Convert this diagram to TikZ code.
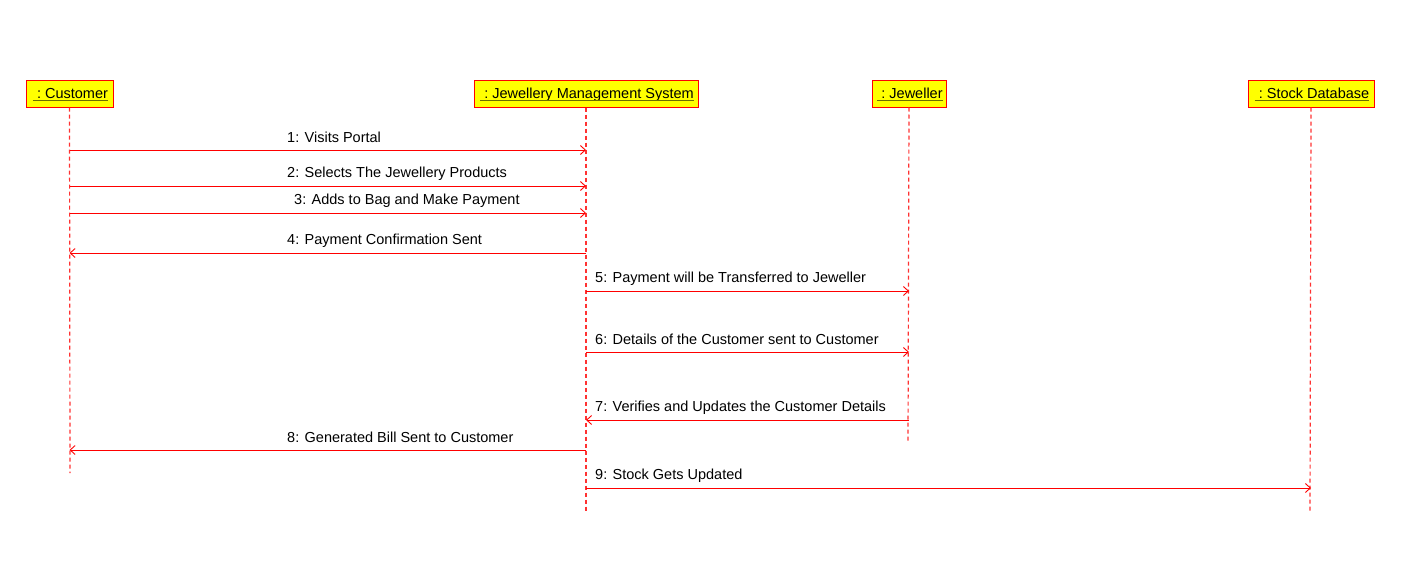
\documentclass[tikz,border=0pt]{standalone}
\usepackage{fontspec}
\setmainfont{Liberation Sans}
\usetikzlibrary{arrows.meta}
\definecolor{mred}{RGB}{255,0,0}
\definecolor{lifered}{RGB}{255,50,50}
\definecolor{boxyellow}{RGB}{255,255,0}
\definecolor{ulcol}{RGB}{110,110,0}
\begin{document}
\begin{tikzpicture}[x=1pt,y=-1pt,font=\fontsize{14.5}{16}\selectfont,
  actor/.style={draw=mred,fill=boxyellow,line width=1pt,minimum height=27pt,inner sep=0pt},
  acttext/.style={inner sep=0pt,anchor=base},
  uline/.style={draw=ulcol,line width=1.3pt},
  life/.style={draw=lifered,line width=1.2pt,dash pattern=on 4pt off 3pt},
  msg/.style={draw=mred,line width=1pt,-{Straight Barb[length=5pt,width=9pt,line width=0.9pt]}},
  mlabel/.style={anchor=base west,inner sep=0pt}]
\useasboundingbox (0,0) rectangle (1416,570);
% actors
\node[actor,minimum width=87pt] (cust) at (69.5,93.5) {};
\node[actor,minimum width=224pt] (jms) at (586,93.5) {};
\node[actor,minimum width=74pt] (jew) at (909,93.5) {};
\node[actor,minimum width=126pt] (stock) at (1311,93.5) {};
\node[acttext] (custt) at ([xshift=1pt,yshift=-5pt]cust.center) {\ :\ Customer};
\node[acttext] (jmst) at ([xshift=1pt,yshift=-5pt]jms.center) {\ :\ Jewellery Management System};
\node[acttext] (jewt) at ([xshift=1pt,yshift=-5pt]jew.center) {\ :\ Jeweller};
\node[acttext] (stockt) at ([xshift=1pt,yshift=-5pt]stock.center) {\ :\ Stock Database};
\foreach \t in {custt,jmst,jewt,stockt}
  \draw[uline] ([yshift=-2pt]\t.base west) -- ([yshift=-2pt]\t.base east);
% lifeline ends
\coordinate (custE) at (70,473);
\coordinate (jmsE) at (586,511);
\coordinate (jewE) at (908,443);
\coordinate (stockE) at (1310,511);
\draw[life] (cust.south) -- (custE);
\draw[life] (jms.south) -- (jmsE);
\draw[life] (jew.south) -- (jewE);
\draw[life] (stock.south) -- (stockE);
% messages
\draw[msg] (cust.south |- 0,150) -- (jms.south |- 0,150);
\node[mlabel] (l1) at (287,142) {1: Visits Portal};
\draw[msg] (cust.south |- 0,186) -- (jms.south |- 0,186);
\node[mlabel] (l2) at (287,177) {2: Selects The Jewellery Products};
\draw[msg] (cust.south |- 0,213) -- (jms.south |- 0,213);
\node[mlabel] (l3) at (294,204) {3: Adds to Bag and Make Payment};
\draw[msg] (jms.south |- 0,253) -- (cust.south |- 0,253);
\node[mlabel] (l4) at (287,244) {4: Payment Confirmation Sent};
\draw[msg] (jms.south |- 0,291) -- (jew.south |- 0,291);
\node[mlabel] (l5) at (595,282) {5: Payment will be Transferred to Jeweller};
\draw[msg] (jms.south |- 0,352) -- (jew.south |- 0,352);
\node[mlabel] (l6) at (595,344) {6: Details of the Customer sent to Customer};
\draw[msg] (jew.south |- 0,420) -- (jms.south |- 0,420);
\node[mlabel] (l7) at (595,411) {7: Verifies and Updates the Customer Details};
\draw[msg] (jms.south |- 0,450) -- (cust.south |- 0,450);
\node[mlabel] (l8) at (287,442) {8: Generated Bill Sent to Customer};
\draw[msg] (jms.south |- 0,488) -- (stock.south |- 0,488);
\node[mlabel] (l9) at (595,479) {9: Stock Gets Updated};
\end{tikzpicture}
\end{document}
